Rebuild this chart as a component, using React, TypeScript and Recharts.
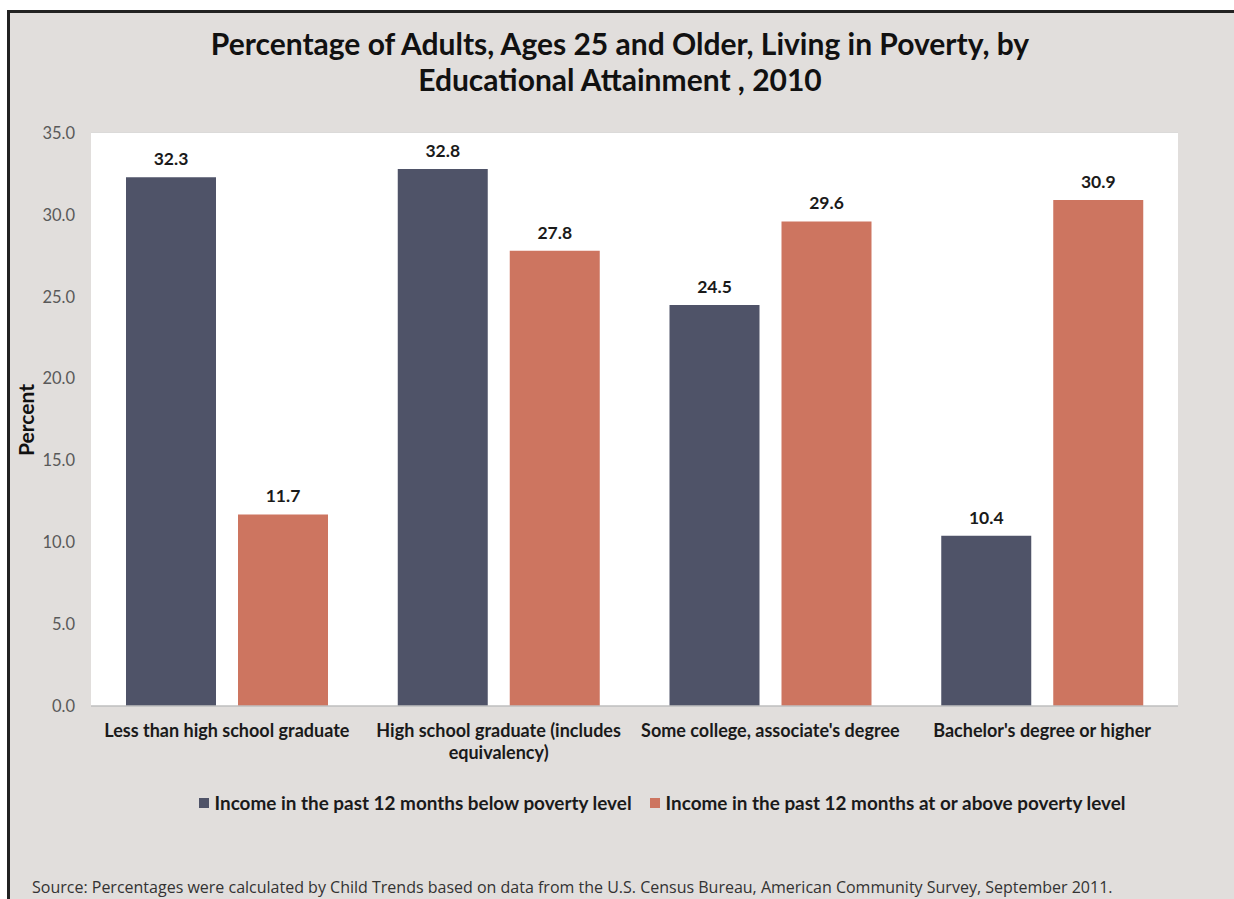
import React from 'react';
import { BarChart, Bar, XAxis, YAxis, CartesianGrid, Legend, LabelList, Text } from 'recharts';

const categories = [
  'Less than high school graduate',
  'High school graduate (includes equivalency)',
  "Some college, associate's degree",
  "Bachelor's degree or higher"
];
const belowPoverty = [32.3, 32.8, 24.5, 10.4];
const abovePoverty = [11.7, 27.8, 29.6, 30.9];
const yTicks = [0, 5, 10, 15, 20, 25, 30, 35];

const BELOW = '#4f5368';
const ABOVE = '#cd7560';
const FONT = 'Lato, "Open Sans", sans-serif';

const data = categories.map((c, i) => ({
  name: c,
  below: belowPoverty[i],
  above: abovePoverty[i]
}));

const legendItems = [
  { label: 'Income in the past 12 months below poverty level', color: BELOW },
  { label: 'Income in the past 12 months at or above poverty level', color: ABOVE }
];

const CategoryTick = ({ x, y, payload }: any) => (
  <Text
    x={x}
    y={y}
    width={262}
    textAnchor="middle"
    verticalAnchor="start"
    fontSize={18}
    fontWeight={700}
    fill="#1a1a1a"
    fontFamily={FONT}
    lineHeight={22}
  >
    {payload.value}
  </Text>
);

const LegendContent = () => (
  <div style={{ display: 'flex', justifyContent: 'center', gap: 18, fontFamily: FONT, fontSize: 18.9, fontWeight: 700, color: '#1a1a1a' }}>
    {legendItems.map(item => (
      <div key={item.label} style={{ display: 'flex', alignItems: 'center' }}>
        <span style={{ width: 10, height: 10, background: item.color, display: 'inline-block', marginRight: 6 }} />
        {item.label}
      </div>
    ))}
  </div>
);

const valueLabelStyle = { fontSize: 17.5, fontWeight: 700, fill: '#1a1a1a', fontFamily: FONT };

export default function App() {
  return (
    <div style={{ position: 'absolute', left: 0, top: 0, width: 1234, height: 899, background: '#fff', overflow: 'hidden' }}>
      <div style={{ position: 'absolute', left: 7, top: 10, width: 1240, height: 900, background: '#e1dedc', borderTop: '3px solid #222', borderLeft: '3px solid #222' }} />
      <div style={{ position: 'absolute', left: 0, top: 25, width: 1240, textAlign: 'center', fontFamily: FONT, fontWeight: 700, fontSize: 30, lineHeight: '36px', color: '#111' }}>
        Percentage of Adults, Ages 25 and Older, Living in Poverty, by
        <br />
        Educational Attainment , 2010
      </div>
      <div style={{ position: 'absolute', left: 25, top: 420, transform: 'translate(-50%, -50%) rotate(-90deg)', fontFamily: FONT, fontWeight: 700, fontSize: 21, color: '#111', whiteSpace: 'nowrap' }}>
        Percent
      </div>
      <div style={{ position: 'absolute', left: 0, top: 0 }}>
        <BarChart
          width={1234}
          height={899}
          data={data}
          margin={{ top: 133, right: 56, left: 15, bottom: 143 }}
          barCategoryGap={35}
          barGap={22}
        >
          <rect x={91} y={133} width={1087} height={573} fill="#fff" />
          <CartesianGrid vertical={false} stroke="#d9d9d9" strokeWidth={1.5} />
          <XAxis
            dataKey="name"
            axisLine={{ stroke: '#bfbfbf', strokeWidth: 1.5 }}
            tickLine={false}
            tick={<CategoryTick />}
            height={50}
            tickMargin={12}
            interval={0}
          />
          <YAxis
            domain={[0, 35]}
            ticks={yTicks}
            width={76}
            axisLine={false}
            tickLine={false}
            tickMargin={10}
            tickFormatter={(v: number) => v.toFixed(1)}
            tick={{ fontSize: 16.5, fill: '#595959', fontFamily: FONT }}
          />
          <Legend
            layout="horizontal"
            verticalAlign="middle"
            align="center"
            content={<LegendContent />}
            wrapperStyle={{ top: 791, left: 85, width: 1154 }}
          />
          <Bar dataKey="below" name={legendItems[0].label} fill={BELOW} isAnimationActive={false}>
            <LabelList dataKey="below" position="top" offset={12} formatter={(v: any) => Number(v).toFixed(1)} style={valueLabelStyle} />
          </Bar>
          <Bar dataKey="above" name={legendItems[1].label} fill={ABOVE} isAnimationActive={false}>
            <LabelList dataKey="above" position="top" offset={12} formatter={(v: any) => Number(v).toFixed(1)} style={valueLabelStyle} />
          </Bar>
        </BarChart>
      </div>
      <div style={{ position: 'absolute', left: 32, top: 876, fontFamily: '"Open Sans", sans-serif', fontSize: 16, color: '#333', whiteSpace: 'nowrap' }}>
        Source: Percentages were calculated by Child Trends based on data from the U.S. Census Bureau, American Community Survey, September 2011.
      </div>
    </div>
  );
}
